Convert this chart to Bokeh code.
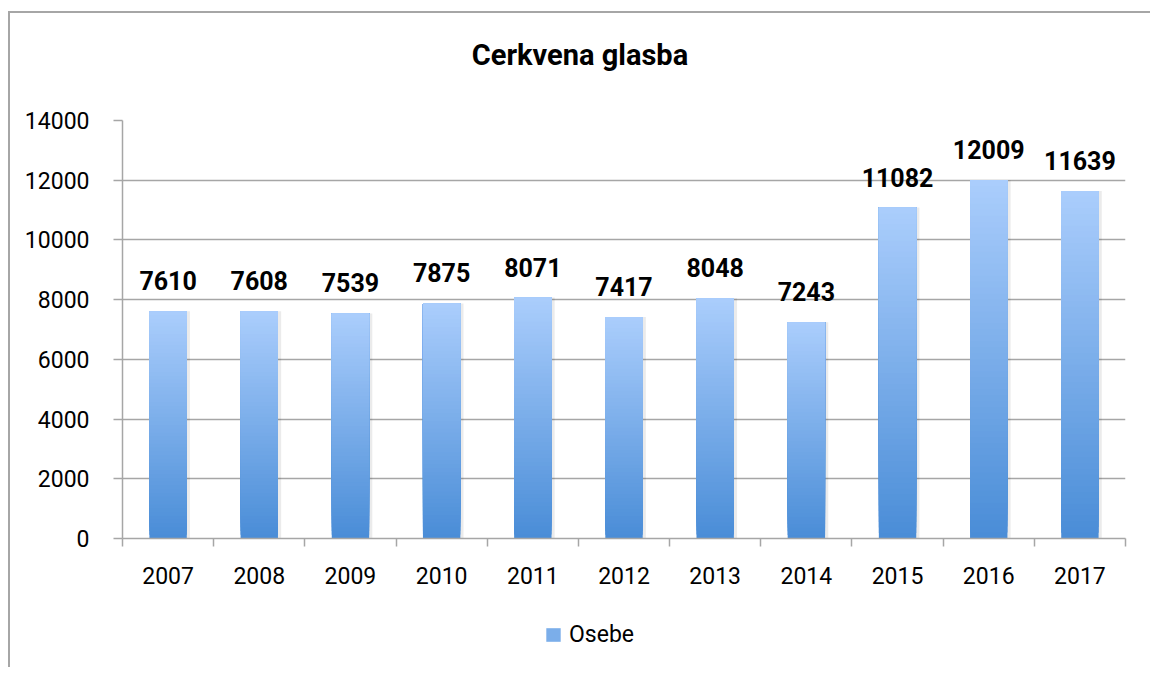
from bokeh.plotting import figure
from bokeh.layouts import column
from bokeh.core.properties import value
from bokeh.models import Range1d, FixedTicker, ColumnDataSource, LabelSet, Legend, LegendItem, Div
from bokeh.embed import file_html
from bokeh.resources import INLINE

# ---- data ----
years = ["2007", "2008", "2009", "2010", "2011", "2012", "2013", "2014", "2015", "2016", "2017"]
osebe = [7610, 7608, 7539, 7875, 8071, 7417, 8048, 7243, 11082, 12009, 11639]
y_ticks = [0, 2000, 4000, 6000, 8000, 10000, 12000, 14000]
title_text = "Cerkvena glasba"
series_name = "Osebe"

# ---- style ----
FONT = "Roboto"
GRAY = "#a6a6a6"
TOP_RGB = (170, 205, 252)
BOT_RGB = (74, 141, 215)
N_STEPS = 60
BAR_W = 0.41
W = 1140

xs = [i + 0.5 for i in range(len(years))]


def mix(t):
    r = round(BOT_RGB[0] + (TOP_RGB[0] - BOT_RGB[0]) * t)
    g = round(BOT_RGB[1] + (TOP_RGB[1] - BOT_RGB[1]) * t)
    b = round(BOT_RGB[2] + (TOP_RGB[2] - BOT_RGB[2]) * t)
    return "#%02x%02x%02x" % (r, g, b)


# gradient bars: overlapping slices, each from a fraction of the value up to the value
grad = dict(left=[], right=[], bottom=[], top=[], color=[])
for k in range(N_STEPS):
    c = mix(k / (N_STEPS - 1))
    for x, v in zip(xs, osebe):
        grad["left"].append(x - BAR_W / 2)
        grad["right"].append(x + BAR_W / 2)
        grad["bottom"].append(v * k / N_STEPS)
        grad["top"].append(v)
        grad["color"].append(c)

# ---- title ----
title_div = Div(text=(f'<div style="width:{W}px; padding-top:22px; text-align:center; '
                      f'font-family:{FONT}; font-weight:bold; font-size:29px; color:black; '
                      f'white-space:nowrap;">{title_text}</div>'),
                width=W, height=92, margin=0)

# ---- main chart ----
p = figure(width=W, height=495,
           x_range=Range1d(0, len(years)), y_range=Range1d(y_ticks[0], y_ticks[-1]),
           output_backend="svg", toolbar_location=None,
           min_border_left=112, min_border_top=15, min_border_right=25, min_border_bottom=62,
           outline_line_color=None, background_fill_color="white", border_fill_color="white")

# grid
p.xgrid.visible = False
p.ygrid.grid_line_color = GRAY
p.ygrid.grid_line_width = 1.5
p.ygrid.ticker = FixedTicker(ticks=y_ticks)

# y axis
p.yaxis.ticker = FixedTicker(ticks=y_ticks)
p.yaxis.axis_line_color = GRAY
p.yaxis.axis_line_width = 1.5
p.yaxis.major_tick_line_color = GRAY
p.yaxis.major_tick_line_width = 1.5
p.yaxis.major_tick_out = 9
p.yaxis.major_tick_in = 0
p.yaxis.minor_tick_line_color = None
p.yaxis.major_label_standoff = 24
p.yaxis.major_label_text_font = FONT
p.yaxis.major_label_text_font_size = "23px"
p.yaxis.major_label_text_color = "black"

# x axis: labels at bar centres, tick marks at category boundaries
p.xaxis.ticker = FixedTicker(ticks=xs, minor_ticks=list(range(len(years) + 1)))
p.xaxis.major_label_overrides = {x: y for x, y in zip(xs, years)}
p.xaxis.axis_line_color = GRAY
p.xaxis.axis_line_width = 1.5
p.xaxis.major_tick_line_color = None
p.xaxis.major_tick_out = 0
p.xaxis.major_tick_in = 0
p.xaxis.minor_tick_line_color = GRAY
p.xaxis.minor_tick_line_width = 1.5
p.xaxis.minor_tick_out = 8
p.xaxis.minor_tick_in = 0
p.xaxis.major_label_standoff = 20
p.xaxis.major_label_text_font = FONT
p.xaxis.major_label_text_font_size = "23px"
p.xaxis.major_label_text_color = "black"

# soft shadow
shadow = ColumnDataSource(dict(left=[x - BAR_W / 2 + 0.01 for x in xs],
                               right=[x + BAR_W / 2 + 0.035 for x in xs],
                               top=osebe))
p.quad(left="left", right="right", bottom=0, top="top", source=shadow,
       fill_color="black", fill_alpha=0.08, line_color=None)

src = ColumnDataSource(grad)
p.quad(left="left", right="right", bottom="bottom", top="top", source=src,
       fill_color="color", line_color=None)

# data labels
lab_src = ColumnDataSource(dict(x=xs, y=osebe, t=[str(v) for v in osebe]))
p.add_layout(LabelSet(x="x", y="y", text="t", source=lab_src, y_offset=21,
                      text_align="center", text_baseline="alphabetic",
                      text_font=value(FONT), text_font_size=value("25px"),
                      text_font_style="bold", text_color="black"))

# ---- legend strip (same bars, outside its visible range; only the legend shows) ----
pl = figure(width=W, height=67, x_range=Range1d(0, len(years)), y_range=Range1d(-2, -1),
            output_backend="svg", toolbar_location=None,
            min_border_left=0, min_border_right=0, min_border_top=0, min_border_bottom=0,
            outline_line_color=None, background_fill_color="white", border_fill_color="white")
pl.axis.visible = False
pl.grid.visible = False
leg_bars = pl.quad(left="left", right="right", bottom="bottom", top="top", source=src,
                   fill_color="color", line_color=None)
mid_index = (N_STEPS // 2) * len(years)
legend = Legend(items=[LegendItem(label=series_name, renderers=[leg_bars], index=mid_index)],
                location=(422, 19), orientation="horizontal",
                border_line_color=None, background_fill_alpha=0,
                padding=0, margin=0, glyph_width=18, glyph_height=17, label_standoff=7,
                label_text_font=FONT, label_text_font_size="23px", label_text_color="black")
pl.add_layout(legend)

layout = column(title_div, p, pl, spacing=0)
layout.margin = (11, 0, 0, 8)
layout.styles = {"border-left": f"2px solid {GRAY}", "border-top": f"2px solid {GRAY}"}

open("out.html", "w").write(file_html(layout, INLINE))
